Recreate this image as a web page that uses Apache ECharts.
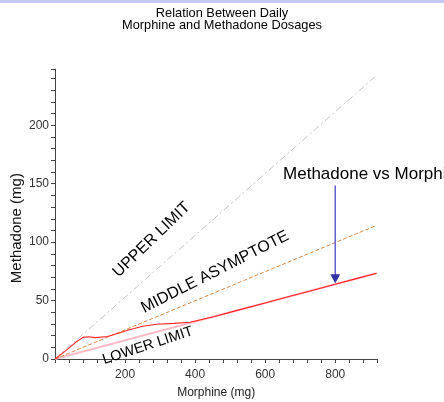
<!DOCTYPE html>
<html><head><meta charset="utf-8">
<script src="https://cdn.jsdelivr.net/npm/echarts@6/dist/echarts.min.js"></script>
<style>html,body{margin:0;padding:0;background:#fff}#c{width:444px;height:402px}</style>
</head><body><div id="c"></div>
<script>
const titleLines = ['Relation Between Daily', 'Morphine and Methadone Dosages'];
const xAxisName = 'Morphine (mg)';
const yAxisName = 'Methadone (mg)';
const xTickLabels = [200, 400, 600, 800];
const yTickLabels = [0, 50, 100, 150, 200];
const methadoneVsMorphine = [[0,0],[30,7],[60,14.5],[80,18.5],[95,19],[115,18.3],[150,19.3],[185,22.5],[210,24.8],[250,28],[290,29.8],[340,30.5],[385,31.4],[450,36],[520,41.6],[600,48],[660,52.8],[720,57.6],[800,64],[860,68.8],[918,73.4]];
const upperLimit = [[0,0],[915,242]];
const middleAsymptote = [[0,0],[915,114]];
const lowerLimit = [[0,0],[918,73.4]];
const arrowLine = [[800,148.5],[800,72]];
const arrowHead = [[800,68.7]];
const curveLabels = [
  {text: 'UPPER LIMIT', at: [276,102], angle: 44, size: 16},
  {text: 'MIDDLE ASYMPTOTE', at: [457,74.5], angle: 27, size: 16},
  {text: 'LOWER LIMIT', at: [265,11.5], angle: 18, size: 14.5}
];
const annotation = {text: 'Methadone vs Morphine', at: [651,158]};

const FONT = '"Liberation Sans", Arial, sans-serif';
const chart = echarts.init(document.getElementById('c'), null, {renderer: 'canvas'});
chart.setOption({
  animation: false,
  backgroundColor: '#fff',
  textStyle: {fontFamily: FONT},
  title: {
    text: titleLines.join('\n'), left: 'center', top: 7, padding: 0,
    textStyle: {fontSize: 12.8, fontWeight: 'normal', color: '#000', lineHeight: 12, fontFamily: FONT}
  },
  grid: {left: 55, right: 66.7, top: 69.2, bottom: 43, containLabel: false, outerBoundsMode: 'none'},
  xAxis: {
    type: 'value', min: 0, max: 920, interval: 40,
    name: xAxisName, nameLocation: 'middle', nameGap: 28, nameMoveOverlap: false,
    nameTextStyle: {fontSize: 12, color: '#222', fontFamily: FONT, verticalAlign: 'top'},
    axisLine: {lineStyle: {color: '#444', width: 1}},
    axisTick: {show: true, length: 4, lineStyle: {color: '#444'}},
    axisLabel: {
      margin: 10, fontSize: 12, color: '#333', fontFamily: FONT,
      formatter: v => xTickLabels.includes(v) ? String(v) : ''
    },
    splitLine: {show: false}
  },
  yAxis: {
    type: 'value', min: 0, max: 248, interval: 10,
    name: yAxisName, nameLocation: 'middle', nameGap: 31, nameMoveOverlap: false,
    nameTextStyle: {fontSize: 15, color: '#111', fontFamily: FONT, padding: [0, 28, 0, 0]},
    axisLine: {show: true, lineStyle: {color: '#444', width: 1}},
    axisTick: {show: true, length: 4, lineStyle: {color: '#444'}},
    axisLabel: {
      margin: 6, fontSize: 12, color: '#333', fontFamily: FONT,
      formatter: v => yTickLabels.includes(v) ? String(v) : ''
    },
    splitLine: {show: false}
  },
  series: [
    {name: 'Lower limit', type: 'line', data: lowerLimit, symbol: 'none', lineStyle: {color: '#ffbcc8', width: 2}, z: 2},
    {name: 'Middle asymptote', type: 'line', data: middleAsymptote, symbol: 'none', lineStyle: {color: '#d88a48', width: 1, type: [4, 2]}, z: 3},
    {name: 'Upper limit', type: 'line', data: upperLimit, symbol: 'none', lineStyle: {color: '#c4c4c4', width: 1, type: [7, 3, 2, 3]}, z: 3},
    {name: 'Methadone vs Morphine', type: 'line', data: methadoneVsMorphine, symbol: 'none', lineStyle: {color: '#ff2424', width: 1.1}, z: 4},
    {name: 'Arrow', type: 'line', data: arrowLine, symbol: 'none', lineStyle: {color: '#5f5fcf', width: 1.5}, z: 5},
    {name: 'Arrow head', type: 'scatter', data: arrowHead, symbol: 'triangle', symbolRotate: 180, symbolSize: [10, 9], itemStyle: {color: '#00008e'}, z: 6}
  ]
});

const g = [{type: 'rect', shape: {x: 0, y: 0, width: 444, height: 3}, style: {fill: '#c8c8f8'}, silent: true}];
curveLabels.forEach(l => {
  const p = chart.convertToPixel({gridIndex: 0}, l.at);
  g.push({type: 'text', x: p[0], y: p[1], rotation: l.angle * Math.PI / 180,
    style: {text: l.text, fontSize: l.size, fontFamily: FONT, fill: '#000', align: 'center', verticalAlign: 'middle'}, z: 10});
});
const ap = chart.convertToPixel({gridIndex: 0}, annotation.at);
g.push({type: 'text', x: ap[0], y: ap[1], style: {text: annotation.text, fontSize: 17, fontFamily: FONT, fill: '#000', align: 'left', verticalAlign: 'middle'}, z: 10});
chart.setOption({graphic: g});
</script>
</body></html>
